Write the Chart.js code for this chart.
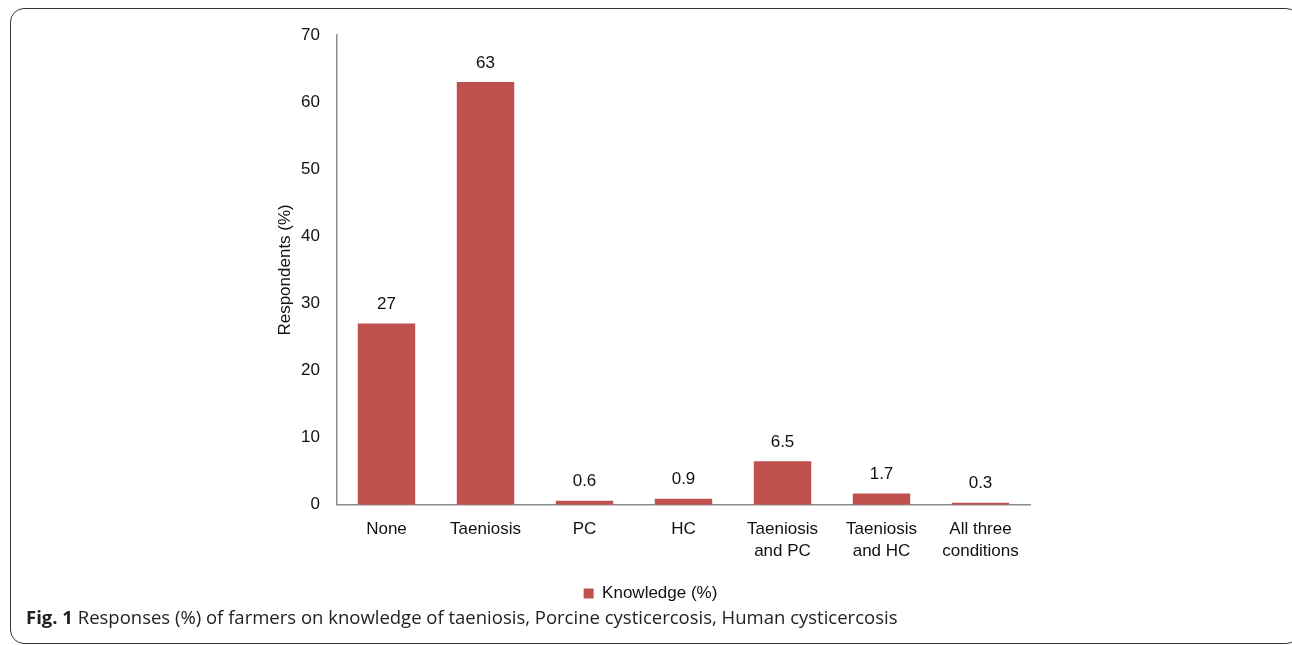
<!DOCTYPE html>
<html>
<head>
<meta charset="utf-8">
<script src="https://cdn.jsdelivr.net/npm/chart.js@4/dist/chart.umd.min.js"></script>
<style>
  body { margin: 0; background: #fff; width: 1292px; height: 645px; overflow: hidden; position: relative; }
  #frame { position: absolute; left: 10px; top: 8px; width: 1290px; height: 636px; border: 1.5px solid #333; border-radius: 14px; box-sizing: border-box; }
  #wrap { position: absolute; left: 0; top: 0; width: 1292px; height: 617px; }
  #caption { position: absolute; left: 26px; top: 604px; font-family: "Open Sans", sans-serif; font-size: 18.5px; color: #222; white-space: nowrap; }
  #caption b { font-weight: 700; }
</style>
</head>
<body>
<div id="frame"></div>
<div id="wrap"><canvas id="chart"></canvas></div>
<div id="caption"><b>Fig. 1</b> Responses (%) of farmers on knowledge of taeniosis, Porcine cysticercosis, Human cysticercosis</div>
<script>
const categories = [['None'], ['Taeniosis'], ['PC'], ['HC'], ['Taeniosis', 'and PC'], ['Taeniosis', 'and HC'], ['All three', 'conditions']];
const knowledge = [27, 63, 0.6, 0.9, 6.5, 1.7, 0.3];
const yTicks = [0, 10, 20, 30, 40, 50, 60, 70];

const barRed = '#C0504D';
const axisGrey = '#8c8c8c';
const font = 'Arial, "Liberation Sans", sans-serif';

// values over the bars
const valueLabels = {
  id: 'valueLabels',
  afterDatasetsDraw(chart) {
    const ctx = chart.ctx;
    const meta = chart.getDatasetMeta(0);
    ctx.save();
    ctx.font = '17px ' + font;
    ctx.fillStyle = '#111';
    ctx.textAlign = 'center';
    ctx.textBaseline = 'middle';
    meta.data.forEach((bar, i) => {
      ctx.fillText(String(knowledge[i]), bar.x, bar.y - 19);
    });
    ctx.restore();
  }
};

Chart.defaults.font.family = font;
Chart.defaults.color = '#111';

new Chart(document.getElementById('chart').getContext('2d'), {
  type: 'bar',
  data: {
    labels: categories,
    datasets: [{
      label: 'Knowledge (%)',
      data: knowledge,
      backgroundColor: barRed,
      borderWidth: 0,
      categoryPercentage: 1,
      barPercentage: 0.58
    }]
  },
  options: {
    responsive: true,
    maintainAspectRatio: false,
    animation: false,
    layout: { padding: { left: 271, right: 262, top: 35, bottom: 5 } },
    plugins: {
      legend: {
        position: 'bottom',
        labels: { boxWidth: 10, boxHeight: 10, padding: 10, font: { size: 17 }, color: '#111' }
      },
      tooltip: { enabled: false }
    },
    scales: {
      x: {
        grid: { display: false, drawTicks: false },
        border: { color: axisGrey, width: 1.5 },
        ticks: { font: { size: 17, lineHeight: 1.3 }, padding: 13, maxRotation: 0, autoSkip: false }
      },
      y: {
        min: 0, max: 70,
        afterBuildTicks: s => { s.ticks = yTicks.map(v => ({ value: v })) },
        afterFit: s => { s.width = 66 },
        grid: { display: false, drawTicks: false },
        border: { color: axisGrey, width: 1.5 },
        ticks: { font: { size: 17 }, padding: 17 },
        title: { display: true, text: 'Respondents (%)', font: { size: 17 }, padding: { top: 4, bottom: 4 } }
      }
    }
  },
  plugins: [valueLabels]
});
</script>
</body>
</html>
